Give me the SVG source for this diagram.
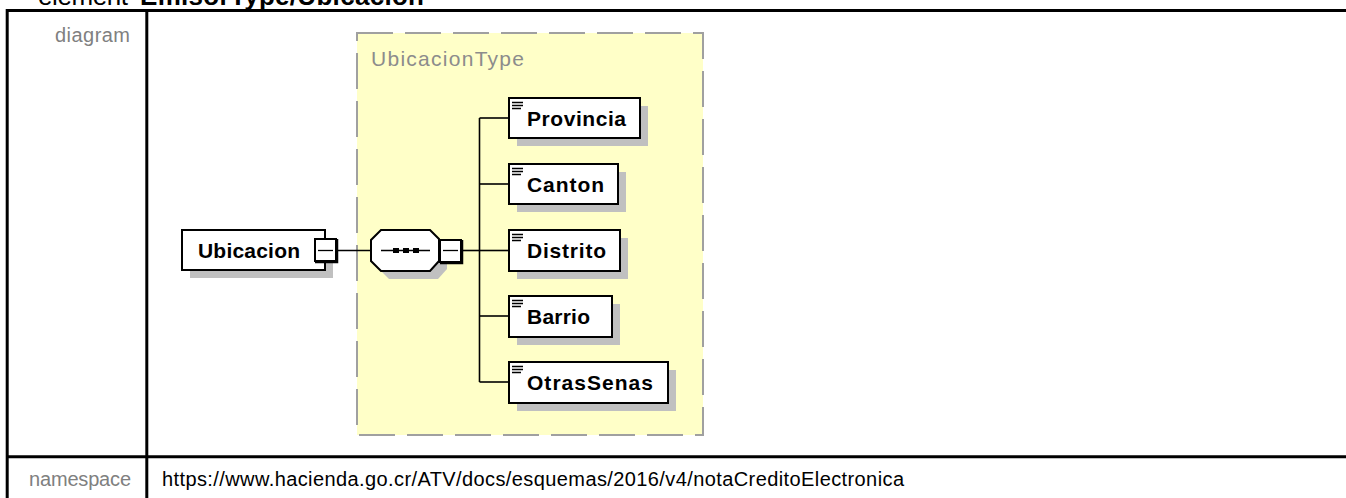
<svg xmlns="http://www.w3.org/2000/svg" width="1346" height="498" viewBox="0 0 1346 498">
<style>
  .frame{stroke:#000;stroke-width:3;fill:none}
  .lbl{font-family:"Liberation Sans",Arial,sans-serif;font-size:20px;fill:#808080}
  .val{font-family:"Liberation Sans",Arial,sans-serif;font-size:20px;fill:#000}
  .title{font-family:"Liberation Sans",Arial,sans-serif;font-size:26px;fill:#000}
  .box{fill:#fff;stroke:#000;stroke-width:2}
  .shadow{fill:#c0c0c0}
  .name{font-family:"Liberation Sans",Arial,sans-serif;font-size:21px;font-weight:bold;fill:#000}
  .conn{stroke:#000;stroke-width:1.6;fill:none}
  .ico{stroke:#000;stroke-width:1.3}
</style>
<g id="table">
  <text class="title" x="38" y="5" textLength="90">element</text>
  <text class="title" x="140" y="5" font-weight="bold" textLength="284">EmisorType/Ubicacion</text>
  <line class="frame" x1="6" y1="10.5" x2="1346" y2="10.5"/>
  <line class="frame" x1="6" y1="456.7" x2="1346" y2="456.7"/>
  <line class="frame" x1="7.2" y1="9" x2="7.2" y2="498" stroke-width="2.5"/>
  <line class="frame" x1="146.8" y1="9" x2="146.8" y2="498" stroke-width="2.5"/>
  <text class="lbl" x="130" y="41.5" text-anchor="end" textLength="75">diagram</text>
  <text class="lbl" x="131" y="486" text-anchor="end" textLength="102">namespace</text>
  <text class="val" x="162" y="486" textLength="742">https://www.hacienda.go.cr/ATV/docs/esquemas/2016/v4/notaCreditoElectronica</text>
</g>
<g id="UbicacionType">
  <rect x="357" y="33" width="346" height="402" fill="#ffffc8" stroke="#a0a0a0" stroke-width="2" stroke-dasharray="36 12"/>
  <text x="371" y="66" font-family="'Liberation Sans',Arial,sans-serif" font-size="21" fill="#8c8c8c" textLength="153">UbicacionType</text>
</g>
<g id="connectors">
  <line class="conn" x1="336" y1="250.5" x2="371" y2="250.5"/>
  <line class="conn" x1="462" y1="250.5" x2="479.5" y2="250.5"/>
  <line class="conn" x1="479.5" y1="118" x2="479.5" y2="382"/>
  <line class="conn" x1="479.5" y1="118" x2="509" y2="118"/>
  <line class="conn" x1="479.5" y1="184" x2="509" y2="184"/>
  <line class="conn" x1="479.5" y1="250.5" x2="509" y2="250.5"/>
  <line class="conn" x1="479.5" y1="316" x2="509" y2="316"/>
  <line class="conn" x1="479.5" y1="382" x2="509" y2="382"/>
</g>
<g id="Ubicacion">
  <rect class="shadow" x="190" y="238" width="143" height="40"/>
  <rect class="box" x="182" y="230" width="143" height="40"/>
  <text class="name" x="198" y="257.5" textLength="102">Ubicacion</text>
  <rect class="box" x="315" y="239" width="21" height="22"/>
  <polyline points="337.5,239 337.5,262.5 315,262.5" fill="none" stroke="#000" stroke-width="1.5"/>
  <line x1="318" y1="250.5" x2="333" y2="250.5" stroke="#000" stroke-width="1.3"/>
</g>
<g id="sequence">
  <polygon class="shadow" points="389,238 438,238 447,247 447,269 438,279 389,279 379,269 379,248"/>
  <polygon class="box" points="381,230 430,230 439,239 439,261 430,271 381,271 371,261 371,240"/>
  <line x1="381" y1="250.5" x2="430" y2="250.5" stroke="#000" stroke-width="1.5"/>
  <rect x="393" y="248" width="6" height="5" fill="#000"/>
  <rect x="403" y="248" width="6" height="5" fill="#000"/>
  <rect x="413" y="248" width="6" height="5" fill="#000"/>
  <rect class="box" x="440" y="240" width="21" height="22"/>
  <polyline points="462.5,240 462.5,263.5 440,263.5" fill="none" stroke="#000" stroke-width="1.5"/>
  <line x1="443" y1="250.5" x2="458" y2="250.5" stroke="#000" stroke-width="1.3"/>
</g>
<g id="Provincia">
  <rect class="shadow" x="517" y="106" width="131" height="40"/>
  <rect class="box" x="509" y="98" width="131" height="40"/>
  <path class="ico" d="M512 102.5h11M512 105.5h11M512 108.5h9"/>
  <text class="name" x="527" y="125.5" textLength="99">Provincia</text>
</g>
<g id="Canton">
  <rect class="shadow" x="517" y="172" width="109" height="40"/>
  <rect class="box" x="509" y="164" width="109" height="40"/>
  <path class="ico" d="M512 168.5h11M512 171.5h11M512 174.5h9"/>
  <text class="name" x="527" y="191.5" textLength="77">Canton</text>
</g>
<g id="Distrito">
  <rect class="shadow" x="517" y="238" width="111" height="41"/>
  <rect class="box" x="509" y="230" width="111" height="41"/>
  <path class="ico" d="M512 234.5h11M512 237.5h11M512 240.5h9"/>
  <text class="name" x="527" y="258" textLength="79">Distrito</text>
</g>
<g id="Barrio">
  <rect class="shadow" x="517" y="304" width="103" height="41"/>
  <rect class="box" x="509" y="296" width="103" height="41"/>
  <path class="ico" d="M512 300.5h11M512 303.5h11M512 306.5h9"/>
  <text class="name" x="527" y="324" textLength="63">Barrio</text>
</g>
<g id="OtrasSenas">
  <rect class="shadow" x="517" y="370" width="159" height="41"/>
  <rect class="box" x="509" y="362" width="159" height="41"/>
  <path class="ico" d="M512 366.5h11M512 369.5h11M512 372.5h9"/>
  <text class="name" x="527" y="390" textLength="126">OtrasSenas</text>
</g>
</svg>
